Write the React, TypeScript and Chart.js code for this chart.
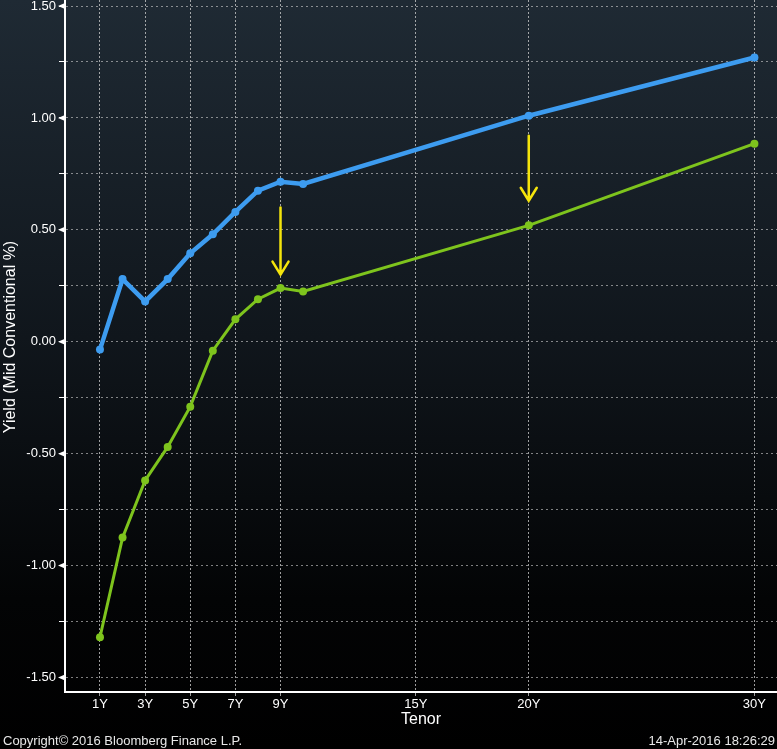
import React, { useEffect, useRef } from "react";
import { Chart, registerables } from "chart.js";

Chart.register(...registerables);

const tenors = [1, 2, 3, 4, 5, 6, 7, 8, 9, 10, 20, 30];
const blueYields = [-0.035, 0.28, 0.18, 0.28, 0.395, 0.48, 0.58, 0.675, 0.715, 0.705, 1.01, 1.27];
const greenYields = [-1.32, -0.875, -0.62, -0.47, -0.29, -0.04, 0.1, 0.19, 0.24, 0.225, 0.52, 0.885];
const xTickValues = [1, 3, 5, 7, 9, 15, 20, 30];
const yTickValues = [-1.5, -1.25, -1.0, -0.75, -0.5, -0.25, 0, 0.25, 0.5, 0.75, 1.0, 1.25, 1.5];
const arrowTenors = [9, 20];
const arrowStart = [0.6, 0.92];
const arrowEnd = [0.3, 0.63];

const FONT = "'Liberation Sans', Arial, sans-serif";

export default function App() {
  const ref = useRef<HTMLCanvasElement | null>(null);

  useEffect(() => {
    document.body.style.margin = "0";
    const canvas = ref.current!;
    const bgPlugin = {
      id: "bg",
      beforeDraw(chart: any) {
        const { ctx, width, height } = chart;
        const g = ctx.createLinearGradient(0, 0, 0, height);
        g.addColorStop(0, "#1f2a34");
        g.addColorStop(0.45, "#10161c");
        g.addColorStop(0.8, "#030405");
        g.addColorStop(1, "#000000");
        ctx.save();
        ctx.fillStyle = g;
        ctx.fillRect(0, 0, width, height);
        ctx.restore();
      },
    };
    const decoPlugin = {
      id: "deco",
      afterDraw(chart: any) {
        const { ctx, chartArea } = chart;
        const xs = chart.scales.x;
        const ys = chart.scales.y;
        ctx.save();
        ctx.fillStyle = "#ffffff";
        yTickValues.forEach((v) => {
          if (Math.abs((v * 2) % 1) < 1e-9) {
            const py = ys.getPixelForValue(v);
            ctx.beginPath();
            ctx.moveTo(chartArea.left - 7, py);
            ctx.lineTo(chartArea.left, py - 3);
            ctx.lineTo(chartArea.left, py + 3);
            ctx.closePath();
            ctx.fill();
          }
        });
        ctx.strokeStyle = "#f4e40c";
        ctx.lineWidth = 2.5;
        ctx.lineCap = "round";
        arrowTenors.forEach((t, i) => {
          const px = xs.getPixelForValue(t);
          const y0 = ys.getPixelForValue(arrowStart[i]);
          const y1 = ys.getPixelForValue(arrowEnd[i]);
          ctx.beginPath();
          ctx.moveTo(px, y0);
          ctx.lineTo(px, y1);
          ctx.moveTo(px - 8, y1 - 13);
          ctx.lineTo(px, y1);
          ctx.lineTo(px + 8, y1 - 13);
          ctx.stroke();
        });
        ctx.fillStyle = "#ffffff";
        ctx.font = `16px ${FONT}`;
        ctx.textAlign = "center";
        ctx.textBaseline = "middle";
        ctx.fillText("Tenor", (chartArea.left + chartArea.right) / 2, 720);
        ctx.save();
        ctx.translate(11, 337);
        ctx.rotate(-Math.PI / 2);
        ctx.font = `16px ${FONT}`;
        ctx.fillText("Yield (Mid Conventional %)", 0, 0);
        ctx.restore();
        ctx.font = `13px ${FONT}`;
        ctx.fillStyle = "#e8e8e8";
        ctx.textAlign = "left";
        ctx.fillText("Copyright\u00a9 2016 Bloomberg Finance L.P.", 3, 741);
        ctx.textAlign = "right";
        ctx.fillText("14-Apr-2016 18:26:29", 775, 741);
        ctx.restore();
      },
    };

    const chart = new Chart(canvas, {
      type: "line",
      data: {
        datasets: [
          {
            data: tenors.map((t, i) => ({ x: t, y: blueYields[i] })),
            borderColor: "#3d9cf0",
            backgroundColor: "#3d9cf0",
            borderWidth: 4.5,
            pointRadius: 4,
            pointBorderWidth: 0,
            tension: 0,
          },
          {
            data: tenors.map((t, i) => ({ x: t, y: greenYields[i] })),
            borderColor: "#7ec41d",
            backgroundColor: "#7ec41d",
            borderWidth: 3,
            pointRadius: 4,
            pointBorderWidth: 0,
            tension: 0,
          },
        ],
      },
      options: {
        responsive: false,
        animation: false,
        layout: { padding: 0, autoPadding: false },
        plugins: { legend: { display: false }, tooltip: { enabled: false } },
        scales: {
          x: {
            type: "linear",
            min: -0.55,
            max: 31,
            afterBuildTicks(scale: any) {
              scale.ticks = xTickValues.map((v) => ({ value: v }));
            },
            afterFit(scale: any) {
              scale.height = 57;
              scale.paddingLeft = 0;
              scale.paddingRight = 0;
            },
            ticks: {
              color: "#ffffff",
              font: { family: FONT, size: 13 },
              padding: 1,
              maxRotation: 0,
              autoSkip: false,
              callback: (v: any) => `${v}Y`,
            },
            grid: {
              color: "rgba(210,210,210,0.75)",
              tickLength: 4,
              tickColor: "rgba(210,210,210,0.75)",
              tickBorderDash: [],
            } as any,
            border: { color: "#ffffff", width: 2, dash: [2, 2] } as any,
          },
          y: {
            type: "linear",
            min: -1.565,
            max: 1.527,
            afterBuildTicks(scale: any) {
              scale.ticks = yTickValues.map((v) => ({ value: v }));
            },
            afterFit(scale: any) {
              scale.width = 65;
              scale.paddingTop = 0;
              scale.paddingBottom = 0;
            },
            ticks: {
              color: "#ffffff",
              font: { family: FONT, size: 13 },
              padding: 3,
              autoSkip: false,
              callback: (v: any) =>
                Math.abs((v * 2) % 1) < 1e-9 ? Number(v).toFixed(2) : "",
            },
            grid: {
              color: "rgba(210,210,210,0.6)",
              tickLength: 6,
              tickColor: "#ffffff",
              tickWidth: 1,
              tickBorderDash: [],
            } as any,
            border: { color: "#ffffff", width: 2, dash: [2, 3] } as any,
          },
        },
      } as any,
      plugins: [bgPlugin, decoPlugin],
    });
    return () => chart.destroy();
  }, []);

  return (
    <div style={{ width: 777, height: 749 }}>
      <canvas ref={ref} width={777} height={749} style={{ display: "block" }} />
    </div>
  );
}
